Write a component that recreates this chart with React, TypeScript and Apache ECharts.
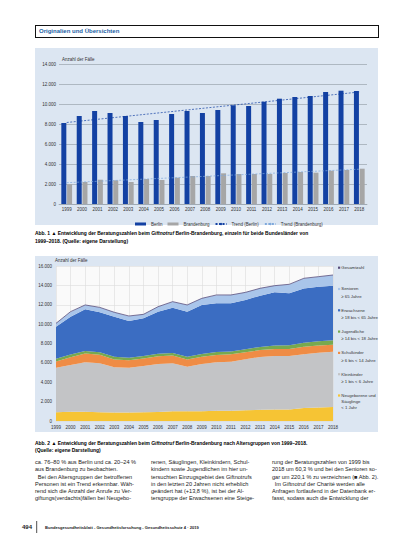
import React, { useEffect, useRef } from "react";
import * as echarts from "echarts";

const years = ["1999", "2000", "2001", "2002", "2003", "2004", "2005", "2006", "2007", "2008", "2009", "2010", "2011", "2012", "2013", "2014", "2015", "2016", "2017", "2018"];

// Abb. 1
const berlin = [8100, 8800, 9300, 9100, 8800, 8200, 8400, 9000, 9300, 9100, 9400, 9870, 9800, 10230, 10530, 10700, 10800, 11200, 11330, 11300];
const brandenburg = [1970, 2200, 2430, 2370, 2200, 2500, 2400, 2630, 2800, 2800, 3070, 3000, 3000, 3000, 3100, 3200, 3130, 3330, 3400, 3530];
const trendBerlin = [8150, null, null, null, null, null, null, null, null, null, null, null, null, null, null, null, null, null, null, 11200];
const trendBrandenburg = [2130, null, null, null, null, null, null, null, null, null, null, null, null, null, null, null, null, null, null, 3480];
const legend1 = ["Berlin", "Brandenburg", "Trend (Berlin)", "Trend (Brandenburg)"];

// Abb. 2
const neugeborene = [900, 950, 950, 900, 880, 880, 900, 930, 1000, 1000, 1000, 1050, 1050, 1100, 1150, 1200, 1200, 1350, 1400, 1450];
const kleinkinder = [4600, 4830, 5110, 5050, 4660, 4620, 4780, 4950, 4950, 4610, 4880, 5010, 5070, 5270, 5460, 5510, 5510, 5530, 5650, 5710];
const schulkinder = [650, 800, 900, 880, 820, 780, 780, 800, 820, 740, 750, 750, 760, 720, 720, 730, 720, 780, 740, 700];
const jugendliche = [280, 280, 260, 260, 260, 260, 260, 260, 260, 280, 280, 300, 300, 320, 320, 350, 380, 420, 440, 480];
const erwachsene = [3310, 3910, 4310, 4130, 4150, 3780, 3880, 4350, 4670, 4660, 5070, 5040, 4970, 5080, 5290, 5490, 5370, 5610, 5640, 5630];
const senioren = [340, 480, 450, 500, 450, 500, 420, 500, 600, 680, 680, 840, 860, 790, 760, 700, 920, 1020, 1030, 1090];
const gesamt = [10080, 11290, 11980, 11730, 11220, 10840, 11010, 11800, 12320, 11980, 12660, 13010, 13010, 13280, 13700, 13970, 14110, 14730, 14900, 15070];

const ageNames = ["Neugeborene und Säuglinge", "Kleinkinder", "Schulkinder", "Jugendliche", "Erwachsene", "Senioren", "Gesamtzahl"];
const ageValues = [neugeborene, kleinkinder, schulkinder, jugendliche, erwachsene, senioren];
const ageColors = ["#f6c434", "#c3c4c6", "#ef8c45", "#77a94f", "#3b6dc2", "#a9c5ea", "#5a4f7c"];
const ageLegendLines = [
  ["Gesamtzahl"],
  ["Senioren", "≥ 65 Jahre"],
  ["Erwachsene", "≥ 18 bis < 65 Jahre"],
  ["Jugendliche", "≥ 14 bis < 18 Jahre"],
  ["Schulkinder", "≥ 6 bis < 14 Jahre"],
  ["Kleinkinder", "≥ 1 bis < 6 Jahre"],
  ["Neugeborene und", "Säuglinge", "< 1 Jahr"],
];
const ageLegendColors = ["#5a4f7c", "#a9c5ea", "#3b6dc2", "#77a94f", "#ef8c45", "#c3c4c6", "#f6c434"];

const col1 = [
  "ca. 76–80 % aus Berlin und ca. 20–24 %",
  "aus Brandenburg zu beobachten.",
  "\u2002Bei den Altersgruppen der betroffenen",
  "Personen ist ein Trend erkennbar. Wäh-",
  "rend sich die Anzahl der Anrufe zu Ver-",
  "giftungs(verdachts)fällen bei Neugebo-",
];
const col2 = [
  "renen, Säuglingen, Kleinkindern, Schul-",
  "kindern sowie Jugendlichen im hier un-",
  "tersuchten Einzugsgebiet des Giftnotrufs",
  "in den letzten 20 Jahren nicht erheblich",
  "geändert hat (+13,8 %), ist bei der Al-",
  "tersgruppe der Erwachsenen eine Steige-",
];
const col3 = [
  "rung der Beratungszahlen von 1999 bis",
  "2018 um 60,3 % und bei den Senioren so-",
  "gar um 220,1 % zu verzeichnen (■ Abb. 2).",
  "\u2002Im Giftnotruf der Charité werden alle",
  "Anfragen fortlaufend in der Datenbank er-",
  "fasst, sodass auch die Entwicklung der",
];

const FONT = "Liberation Sans";
const fmt = (v: number) => String(v).replace(/\B(?=(\d{3})+(?!\d))/g, ".");

export default function App() {
  const ref = useRef<HTMLDivElement>(null);
  useEffect(() => {
    document.body.style.margin = "0";
    const chart = echarts.init(ref.current!, undefined, { renderer: "svg" });

    const graphic: any[] = [];
    graphic.push({
      type: "text", x: 39, y: 31,
      style: { text: "Originalien und Übersichten", fill: "#1b5fa5", font: `bold 6px "${FONT}"`, verticalAlign: "middle" },
    });
    graphic.push({
      type: "text", x: 62, y: 59,
      style: { text: "Anzahl der Fälle", fill: "#333", font: `4.5px "${FONT}"`, verticalAlign: "middle" },
    });
    graphic.push({
      type: "text", x: 55, y: 260,
      style: { text: "Anzahl der Fälle", fill: "#333", font: `4.5px "${FONT}"`, verticalAlign: "middle" },
    });
    ageLegendLines.forEach((lines, i) => {
      const y0 = 267.7 + i * 21.3;
      graphic.push({ type: "rect", shape: { x: 338, y: y0 - 1.1, width: 2.2, height: 2.2 }, style: { fill: ageLegendColors[i] } });
      graphic.push({
        type: "text", x: 341.3, y: y0 - 3.6,
        style: { text: lines.join("\n"), fill: "#333", font: `4.3px "${FONT}"`, lineHeight: i === 6 ? 6.3 : 7.2, verticalAlign: "top" },
      });
    });
    const capRich = {
      a: { fontFamily: FONT, fontSize: 4.95, fontWeight: "bold", color: "#222" },
      i: { fontFamily: FONT, fontSize: 4.95, fontWeight: "bold", fontStyle: "italic", color: "#222" },
      t: { fontFamily: FONT, fontSize: 4.95, color: "#1b5fa5" },
    };
    graphic.push({
      type: "text", x: 35, y: 237.4,
      style: {
        text: "{a|Abb. 1 }{t|▲}{a| Entwicklung der Beratungszahlen beim }{i|Giftnotruf}{a| Berlin-Brandenburg, einzeln für beide Bundesländer von}\n{a|1999–2018. (Quelle: eigene Darstellung)}",
        rich: capRich, lineHeight: 8.6, verticalAlign: "middle",
      },
    });
    graphic.push({
      type: "text", x: 35, y: 447,
      style: {
        text: "{a|Abb. 2 }{t|▲}{a| Entwicklung der Beratungszahlen beim }{i|Giftnotruf}{a| Berlin-Brandenburg nach Altersgruppen von 1999–2018.}\n{a|(Quelle: eigene Darstellung)}",
        rich: capRich, lineHeight: 7.4, verticalAlign: "middle",
      },
    });
    [col1, col2, col3].forEach((c, i) => {
      graphic.push({
        type: "text", x: [35, 151, 272][i], y: 458.7,
        style: { text: c.join("\n"), fill: "#222", font: `5.6px "${FONT}"`, lineHeight: 7.2, verticalAlign: "top" },
      });
    });
    graphic.push({ type: "text", x: 32, y: 527, style: { text: "494", fill: "#222", font: `bold 6px "${FONT}"`, align: "right", verticalAlign: "middle" } });
    graphic.push({ type: "line", shape: { x1: 36.7, y1: 521, x2: 36.7, y2: 533 }, style: { stroke: "#222", lineWidth: 0.8 } });
    graphic.push({
      type: "text", x: 45, y: 527,
      style: { text: "Bundesgesundheitsblatt - Gesundheitsforschung - Gesundheitsschutz 4 · 2019", fill: "#222", font: `bold 4.1px "${FONT}"`, verticalAlign: "middle" },
    });

    const axisLabel = { fontSize: 4.5, color: "#333", fontFamily: FONT };

    chart.setOption({
      animation: false,
      backgroundColor: "transparent",
      textStyle: { fontFamily: FONT },
      grid: [
        { left: 59, top: 64, width: 308, height: 140 },
        { left: 56, top: 266, width: 277, height: 155, show: true, backgroundColor: "#fafafa", borderWidth: 0 },
      ],
      legend: {
        data: [
          { name: legend1[0], icon: "rect" },
          { name: legend1[1], icon: "rect" },
          { name: legend1[2] },
          { name: legend1[3] },
        ],
        left: 130, top: 216.5, itemWidth: 11, itemHeight: 3, itemGap: 5,
        textStyle: { fontSize: 4.5, color: "#333", fontFamily: FONT },
      },
      xAxis: [
        {
          type: "category", data: years, gridIndex: 0,
          axisLine: { show: true, lineStyle: { color: "#9aa3ae", width: 0.7 } },
          axisTick: { show: false },
          axisLabel: { ...axisLabel, interval: 0, margin: 3 },
        },
        {
          type: "category", data: years, gridIndex: 1, boundaryGap: false,
          axisLine: { show: false }, axisTick: { show: false },
          axisLabel: { ...axisLabel, interval: 0, margin: 3.5 },
          splitLine: { show: true, lineStyle: { color: "#dcdcdc", width: 0.6 } },
        },
      ],
      yAxis: [
        {
          type: "value", gridIndex: 0, min: 0, max: 14000, interval: 2000,
          axisLabel: { ...axisLabel, margin: 3, formatter: fmt },
          splitLine: { lineStyle: { color: "#9aa3ae", width: 0.7 } },
          axisLine: { show: false }, axisTick: { show: false },
        },
        {
          type: "value", gridIndex: 1, min: 0, max: 16000, interval: 2000,
          axisLabel: { ...axisLabel, margin: 4, formatter: fmt },
          splitLine: { lineStyle: { color: "#dcdcdc", width: 0.6 } },
          axisLine: { show: false }, axisTick: { show: false },
        },
      ],
      series: [
        { name: legend1[0], type: "bar", data: berlin, xAxisIndex: 0, yAxisIndex: 0, barWidth: 5, barGap: "15%", itemStyle: { color: "#1341a3" } },
        { name: legend1[1], type: "bar", data: brandenburg, xAxisIndex: 0, yAxisIndex: 0, barWidth: 5, itemStyle: { color: "#a6a6a6" } },
        { name: legend1[2], type: "line", data: trendBerlin, connectNulls: true, symbol: "none", xAxisIndex: 0, yAxisIndex: 0, z: 5,
          lineStyle: { color: "#1341a3", width: 0.7, type: [2, 1.5] }, itemStyle: { color: "#1341a3" } },
        { name: legend1[3], type: "line", data: trendBrandenburg, connectNulls: true, symbol: "none", xAxisIndex: 0, yAxisIndex: 0, z: 5,
          lineStyle: { color: "#7fa9dc", width: 0.7, type: [2, 1.5] }, itemStyle: { color: "#7fa9dc" } },
        ...ageValues.map((vals, i) => ({
          name: ageNames[i], type: "line", stack: "alter", data: vals, xAxisIndex: 1, yAxisIndex: 1,
          symbol: "none", lineStyle: { width: 0 }, areaStyle: { color: ageColors[i], opacity: 1 }, itemStyle: { color: ageColors[i] },
        })),
        { name: ageNames[6], type: "line", data: gesamt, xAxisIndex: 1, yAxisIndex: 1, symbol: "none", z: 4,
          lineStyle: { color: ageColors[6], width: 0.8 } },
      ],
      graphic,
    });
    return () => chart.dispose();
  }, []);

  return (
    <div style={{ position: "relative", width: 413, height: 550, background: "#fff" }}>
      <div style={{ position: "absolute", left: 35, top: 25, width: 342, height: 11, border: "0.8px solid #111", background: "#fff" }} />
      <div style={{ position: "absolute", left: 35, top: 48, width: 343, height: 177, background: "#dce6f2" }} />
      <div style={{ position: "absolute", left: 35, top: 256, width: 343, height: 176, background: "#dce6f2" }} />
      <div ref={ref} style={{ position: "absolute", left: 0, top: 0, width: 413, height: 550 }} />
    </div>
  );
}
